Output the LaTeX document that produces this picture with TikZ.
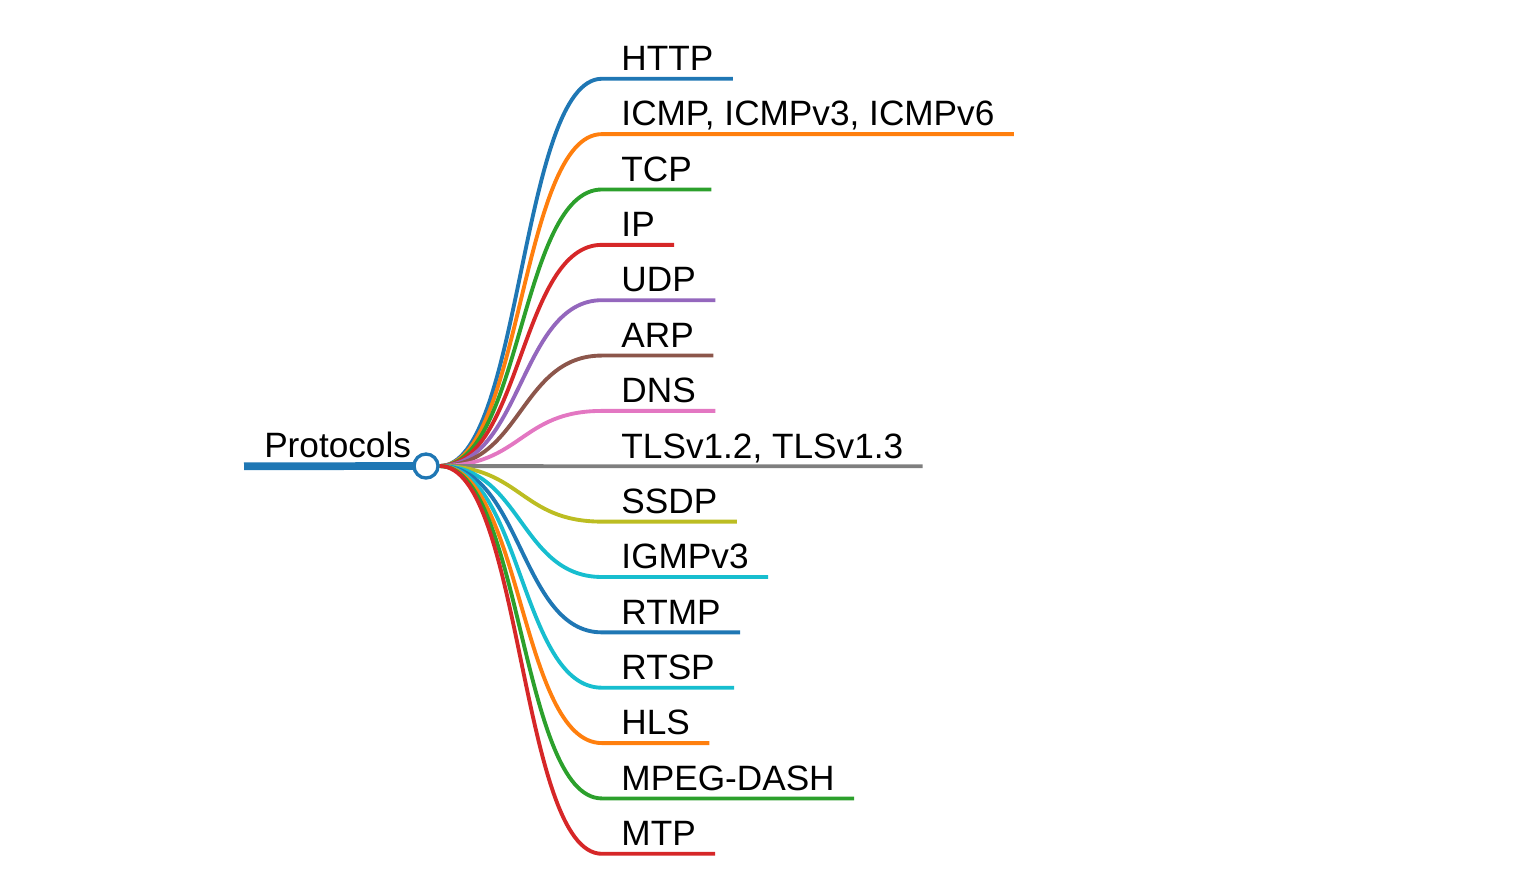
\documentclass[tikz,border=0pt]{standalone}
\usepackage{fontspec}
\setmainfont{Liberation Sans}
\usetikzlibrary{backgrounds}
% tab10 palette
\definecolor{tabblue}{HTML}{1F77B4}
\definecolor{taborange}{HTML}{FF7F0E}
\definecolor{tabgreen}{HTML}{2CA02C}
\definecolor{tabred}{HTML}{D62728}
\definecolor{tabpurple}{HTML}{9467BD}
\definecolor{tabbrown}{HTML}{8C564B}
\definecolor{tabpink}{HTML}{E377C2}
\definecolor{tabgray}{HTML}{7F7F7F}
\definecolor{tabolive}{HTML}{BCBD22}
\definecolor{tabcyan}{HTML}{17BECF}
\begin{document}
\begin{tikzpicture}[x=0.75pt,y=-0.75pt,
  label/.style={anchor=base west, inner xsep=14.4pt, inner ysep=6pt,
    text depth=0pt, font=\fontsize{26.4}{30}\selectfont},
  branch/.style={line width=2.9pt},
  rootline/.style={line width=5.8pt, tabblue},
  hubstyle/.style={circle, draw=tabblue, fill=white, line width=2.5pt,
    minimum size=18pt, inner sep=0pt}]
\useasboundingbox (0,0) rectangle (1526,890);

% central topic
\node[label, inner xsep=15pt, inner ysep=6.75pt] (root) at (244,457) {Protocols};
\node[hubstyle] (hub) at (426,466) {};

\begin{scope}[on background layer]
  \draw[rootline] (root.south west) -- (hub.center);
  \foreach \i/\txt/\col in {
      0/HTTP/tabblue,
      1/{ICMP, ICMPv3, ICMPv6}/taborange,
      2/TCP/tabgreen,
      3/IP/tabred,
      4/UDP/tabpurple,
      5/ARP/tabbrown,
      6/DNS/tabpink,
      7/{TLSv1.2, TLSv1.3}/tabgray,
      8/SSDP/tabolive,
      9/IGMPv3/tabcyan,
      10/RTMP/tabblue,
      11/RTSP/tabcyan,
      12/HLS/taborange,
      13/MPEG-DASH/tabgreen,
      14/MTP/tabred} {
    \pgfmathsetmacro{\yy}{466+(\i-7)*55.36-8}
    \node[label] (n\i) at (602,\yy) {\txt};
    \draw[branch, \col] (hub.east) .. controls +(82,0) and +(-82,0) .. (n\i.south west)
      -- (n\i.south east);
  }
\end{scope}
\end{tikzpicture}
\end{document}
